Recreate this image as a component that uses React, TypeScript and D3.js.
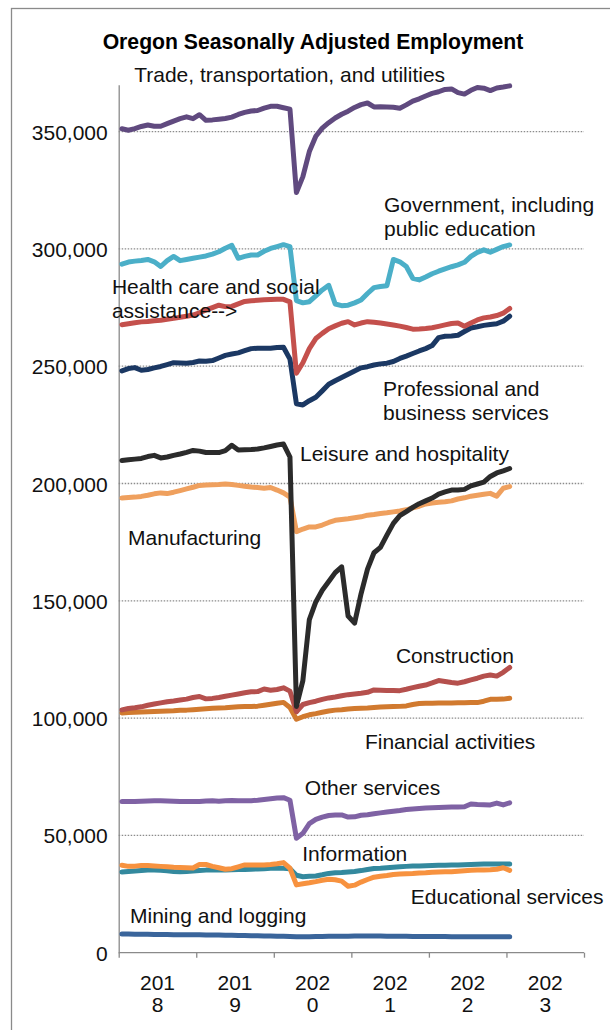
import * as d3 from 'd3';
import React, { useEffect, useRef } from 'react';

// monthly observations, Jan 2018 .. Jan 2023, in thousands of jobs
const months = d3.timeMonth.range(new Date(2018, 0, 1), new Date(2023, 1, 1));
const years = ['2018', '2019', '2020', '2021', '2022', '2023'];
const yTicks = [0, 50000, 100000, 150000, 200000, 250000, 300000, 350000];

const trade = [
  351.2, 350.6, 351.3, 352.2, 352.8, 352.3, 352.3, 353.4, 354.5, 355.5, 356.3, 355.5,
  357.2, 354.8, 355.0, 355.3, 355.6, 356.2, 357.3, 358.2, 358.8, 359.0, 360.0, 360.8,
  360.8, 360.2, 359.6, 324.0, 330.8, 341.5, 348.0, 351.5, 353.8, 355.8, 357.4, 358.7,
  360.3, 361.5, 362.2, 360.5, 360.6, 360.5, 360.4, 360.0, 361.4, 363.0, 364.0, 365.2,
  366.3, 367.0, 368.0, 368.2, 366.6, 366.0, 367.6, 368.8, 368.5, 367.5, 368.6, 369.0,
  369.5,
];
const government = [
  293.5, 294.4, 294.8, 295.1, 295.5, 294.5, 292.5, 295.0, 296.8, 295.0, 295.5, 296.0,
  296.5, 297.0, 297.8, 298.8, 300.3, 301.5, 296.0, 296.8, 297.4, 297.4, 299.0, 300.2,
  301.0, 301.8, 301.0, 278.0, 277.0, 277.5, 280.0, 282.5, 284.5, 276.5, 275.8, 276.0,
  277.0, 278.2, 281.0, 283.5, 284.0, 284.3, 295.5, 294.5, 292.5, 287.5, 286.8, 288.0,
  289.4, 290.5, 291.5, 292.4, 293.2, 294.3, 296.8, 298.5, 299.6, 298.6, 299.8, 301.0,
  301.7,
];
const healthCare = [
  267.7, 268.1, 268.5, 268.9, 269.1, 269.4, 269.6, 270.0, 270.4, 270.9, 271.3, 271.8,
  272.8, 274.0, 275.0, 276.0, 275.4, 275.5, 276.6, 277.6, 277.9, 278.1, 278.3, 278.4,
  278.5, 278.5, 277.4, 247.0, 251.5, 257.5, 261.8, 264.0, 266.0, 267.2, 268.3, 269.0,
  267.6, 268.4, 269.0, 268.7, 268.4, 268.0, 267.6, 267.1, 266.5, 265.8, 265.9, 266.1,
  266.4, 267.0, 267.6, 268.2, 268.4, 267.0, 268.4, 269.7, 270.6, 271.0, 271.6, 272.6,
  274.6,
];
const professional = [
  248.0, 249.0, 249.4, 248.3, 248.6, 249.3, 249.9, 250.7, 251.5, 251.4, 251.3, 251.6,
  252.2, 252.1, 252.4, 253.5, 254.6, 255.2, 255.7, 256.6, 257.5, 257.7, 257.7, 257.7,
  258.0, 258.1, 253.0, 234.0, 233.5, 235.3, 236.8, 239.5, 242.3, 243.8, 245.2, 246.6,
  248.0, 249.3, 249.8, 250.5, 251.0, 251.3, 252.0, 253.3, 254.3, 255.4, 256.5, 257.5,
  258.8, 262.2, 262.8, 262.9, 263.2, 264.8, 266.3, 266.8, 267.4, 267.8, 268.1, 269.2,
  271.3,
];
const leisure = [
  209.8, 210.1, 210.4, 210.7, 211.5, 212.0, 210.9, 211.3, 212.0, 212.6, 213.3, 214.1,
  213.8, 213.2, 213.2, 213.2, 214.0, 216.3, 214.3, 214.4, 214.5, 214.7, 215.2, 215.8,
  216.4, 216.8, 211.3, 105.0, 116.0, 142.0, 149.5, 154.5, 158.2, 162.0, 164.5, 143.5,
  140.5, 153.0, 163.5, 170.5, 172.8, 178.0, 183.0, 186.3, 188.0, 189.8, 191.4, 192.6,
  193.8, 195.5, 196.4, 197.2, 197.2, 197.5, 199.0, 199.8, 200.6, 203.0, 204.5, 205.4,
  206.4,
];
const manufacturing = [
  193.8, 194.0, 194.2, 194.5, 195.0, 195.6, 196.0, 195.7, 196.3, 197.0, 197.7, 198.4,
  199.2, 199.4, 199.5, 199.6, 199.8, 199.6, 199.2, 198.8, 198.5, 198.3, 198.0, 198.3,
  197.2, 196.0, 194.2, 179.5, 180.6, 181.5, 181.5, 182.3, 183.4, 184.3, 184.7, 185.0,
  185.4, 185.8, 186.5, 186.8, 187.2, 187.5, 187.9, 188.3, 188.8, 189.6, 190.3, 191.3,
  191.7, 192.0, 192.2, 192.6, 193.4, 193.9, 194.6, 195.0, 195.4, 195.8, 194.6, 198.0,
  198.7,
];
const construction = [
  103.5, 104.1, 104.4, 104.8, 105.5, 106.0, 106.5, 107.0, 107.3, 107.7, 108.1, 108.8,
  109.2, 108.2, 108.4, 108.8, 109.3, 109.8, 110.3, 110.8, 111.2, 111.3, 112.4, 111.9,
  112.2, 112.9, 111.5, 102.7, 105.8, 106.6, 107.2, 108.0, 108.6, 109.0, 109.5, 110.0,
  110.3, 110.6, 111.0, 112.0, 111.9, 111.8, 111.8, 111.7, 112.3, 113.0, 113.6, 114.1,
  115.0, 116.0, 115.6, 115.2, 114.9, 115.5, 116.3, 117.0, 117.9, 118.4, 117.9, 119.5,
  121.6,
];
const financial = [
  102.2, 102.4, 102.5, 102.6, 102.7, 102.8, 102.9, 103.0, 103.1, 103.3, 103.4, 103.6,
  103.8, 104.0, 104.2, 104.3, 104.4, 104.6, 104.8, 104.9, 104.9, 105.1, 105.5, 105.9,
  106.3, 106.7, 104.5, 99.5, 100.6, 101.4, 101.9, 102.5, 103.0, 103.4, 103.6, 103.9,
  104.1, 104.2, 104.3, 104.5, 104.7, 104.8, 104.9, 105.0, 105.2, 105.8, 106.2, 106.3,
  106.3, 106.4, 106.4, 106.4, 106.5, 106.5, 106.6, 106.6, 107.2, 108.0, 108.0, 108.1,
  108.5,
];
const otherServices = [
  64.4, 64.5, 64.5, 64.6, 64.7, 64.8, 64.8, 64.7, 64.6, 64.5, 64.4, 64.4,
  64.5, 64.7, 64.8, 64.6, 64.8, 64.9, 64.8, 64.8, 64.8, 65.0, 65.3, 65.6,
  65.9, 66.1, 65.0, 48.8, 50.9, 55.0, 56.8, 57.8, 58.5, 58.7, 58.7, 57.8,
  57.9, 58.6, 58.8, 59.2, 59.6, 60.0, 60.3, 60.6, 61.0, 61.3, 61.5, 61.7,
  61.8, 61.9, 62.0, 62.1, 62.1, 62.2, 63.4, 63.2, 63.1, 63.0, 63.8, 63.0,
  63.9,
];
const information = [
  34.4, 34.6, 34.8, 35.0, 35.2, 35.3, 35.1, 34.9, 34.6, 34.5, 34.6, 34.8,
  35.0, 35.2, 35.3, 35.3, 35.3, 35.4, 35.5, 35.5, 35.6, 35.7, 35.8, 36.0,
  36.0, 36.0, 35.8, 33.0, 32.4, 32.6, 32.7, 33.2, 33.8, 34.1, 34.2, 34.4,
  34.6, 35.0, 35.5, 35.9, 36.0, 36.2, 36.4, 36.6, 36.8, 37.0, 37.0, 37.1,
  37.2, 37.3, 37.3, 37.4, 37.4, 37.5, 37.6, 37.7, 37.8, 37.8, 37.8, 37.8,
  37.8,
];
const education = [
  37.3, 36.8, 36.9, 37.2, 37.2, 37.0, 36.8, 36.6, 36.4, 36.3, 36.2, 36.1,
  37.6, 37.6, 36.8, 36.2, 35.6, 35.8, 36.6, 37.4, 37.4, 37.4, 37.4, 37.6,
  37.9, 38.4, 36.0, 28.9, 29.4, 29.8, 30.3, 30.9, 31.3, 31.1, 30.5, 28.3,
  28.8, 30.1, 31.2, 32.2, 32.6, 32.9, 33.3, 33.5, 33.7, 33.8, 34.0, 34.1,
  34.3, 34.4, 34.5, 34.5, 34.7, 34.9, 35.1, 35.2, 35.3, 35.4, 35.6, 36.2,
  35.1,
];
const mining = [
  8.0, 8.0, 7.9, 7.9, 7.9, 7.8, 7.8, 7.8, 7.7, 7.7, 7.7, 7.6,
  7.6, 7.5, 7.5, 7.5, 7.4, 7.4, 7.3, 7.3, 7.2, 7.2, 7.1, 7.1,
  7.0, 7.0, 6.9, 6.8, 6.8, 6.8, 6.9, 6.9, 7.0, 7.0, 7.0, 7.0,
  7.1, 7.1, 7.1, 7.1, 7.1, 7.0, 7.0, 7.0, 7.0, 6.9, 6.9, 6.9,
  6.9, 6.9, 6.9, 6.8, 6.8, 6.8, 6.8, 6.8, 6.8, 6.8, 6.8, 6.8,
  6.8,
];

interface Series {
  values: number[];
  color: string;
  label: string[];
  at: [number, number]; // label anchor: month offset, value in thousands
}

// drawing order: last one sits on top
const series: Series[] = [
  { values: mining, color: '#3a659b', label: ['Mining and logging'], at: [1.75, 12.5] },
  { values: information, color: '#33899e', label: ['Information'], at: [28.4, 39.2] },
  { values: education, color: '#f7923f', label: ['Educational services'], at: [45.2, 20.8] },
  { values: otherServices, color: '#7f62a4', label: ['Other services'], at: [28.8, 67.4] },
  { values: financial, color: '#d17a2f', label: ['Financial activities'], at: [38.1, 86.7] },
  { values: construction, color: '#b5504d', label: ['Construction'], at: [42.9, 123.7] },
  { values: manufacturing, color: '#efa05e', label: ['Manufacturing'], at: [1.45, 174.0] },
  { values: professional, color: '#1b3863', label: ['Professional and', 'business services'], at: [40.9, 237.3] },
  { values: healthCare, color: '#c4504c', label: ['Health care and social', 'assistance-->'], at: [-1.05, 280.8] },
  { values: government, color: '#4bafc8', label: ['Government, including', 'public education'], at: [41.05, 315.8] },
  { values: trade, color: '#604a7f', label: ['Trade, transportation, and utilities'], at: [2.4, 371.3] },
  { values: leisure, color: '#2b2b2b', label: ['Leisure and hospitality'], at: [28.05, 209.6] },
];

const width = 610;
const height = 1030;
const plot = { left: 118.7, right: 584, top: 84.7, bottom: 952.7 };
const font = '"Liberation Sans", Arial, sans-serif';

const App: React.FC = () => {
  const ref = useRef<SVGSVGElement>(null);

  useEffect(() => {
    const svg = d3.select(ref.current);
    svg.selectAll('*').remove();

    const x = d3.scaleLinear().domain([0, years.length * 12]).range([plot.left, plot.right]);
    const y = d3.scaleLinear().domain([0, 370000]).range([plot.bottom, plot.top]);

    svg.append('rect').attr('width', width).attr('height', height).attr('fill', '#fff');
    // chart frame (right/bottom edges fall outside the picture)
    svg
      .append('rect')
      .attr('x', 11.5)
      .attr('y', 8.5)
      .attr('width', width + 20)
      .attr('height', height + 20)
      .attr('fill', 'none')
      .attr('stroke', '#8a8a8a')
      .attr('stroke-width', 1.3);

    svg
      .append('text')
      .attr('x', 313)
      .attr('y', 49)
      .attr('text-anchor', 'middle')
      .attr('font-family', font)
      .attr('font-weight', 'bold')
      .attr('font-size', 21.2)
      .text('Oregon Seasonally Adjusted Employment');

    // gridlines
    svg
      .append('g')
      .selectAll('line')
      .data(yTicks.filter((t) => t > 0))
      .join('line')
      .attr('x1', plot.left)
      .attr('x2', plot.right)
      .attr('y1', (d) => y(d))
      .attr('y2', (d) => y(d))
      .attr('stroke', '#8c8c8c')
      .attr('stroke-width', 1.3)
      .attr('stroke-dasharray', '1.5,1.5');

    // y axis
    const yAxis = svg.append('g').attr('transform', `translate(${plot.left},0)`);
    yAxis.call(
      d3
        .axisLeft(y)
        .tickValues(yTicks)
        .tickSize(0)
        .tickPadding(11)
        .tickFormat((d) => d3.format(',')(d as number))
    );
    yAxis.select('.domain').attr('stroke', '#8a8a8a').attr('stroke-width', 1.3);
    yAxis
      .selectAll('text')
      .attr('font-family', font)
      .attr('font-size', 21)
      .attr('fill', '#111')
      .attr('dy', '0.36em');

    // x axis: one band per year, 12 months each
    const xAxis = svg.append('g').attr('transform', `translate(0,${plot.bottom})`);
    xAxis.call(
      d3
        .axisBottom(x)
        .tickValues(d3.range(0, years.length * 12 + 1, 12))
        .tickSize(5)
        .tickFormat(() => '')
    );
    xAxis.selectAll('.domain, line').attr('stroke', '#8a8a8a').attr('stroke-width', 1.3);
    xAxis.select('.domain').attr('d', `M${plot.left},0H${plot.right}`);

    const yearLabel = svg
      .append('g')
      .selectAll('text')
      .data(years)
      .join('text')
      .attr('text-anchor', 'middle')
      .attr('font-family', font)
      .attr('font-size', 21)
      .attr('fill', '#111')
      .attr('transform', (_, i) => `translate(${x(i * 12 + 6)},${plot.bottom + 37})`);
    yearLabel.append('tspan').attr('x', 0).attr('y', 0).text((d) => d.slice(0, 3));
    yearLabel.append('tspan').attr('x', 0).attr('y', 22).text((d) => d.slice(3));

    const line = d3
      .line<number>()
      .x((_, i) => x(i + 0.5))
      .y((d) => y(d * 1000));

    svg
      .append('g')
      .selectAll('path')
      .data(series)
      .join('path')
      .attr('fill', 'none')
      .attr('stroke', (d) => d.color)
      .attr('stroke-width', 5)
      .attr('stroke-linejoin', 'round')
      .attr('stroke-linecap', 'round')
      .attr('d', (d) => line(d.values.slice(0, months.length)));

    const labels = svg
      .append('g')
      .selectAll('text')
      .data(series)
      .join('text')
      .attr('font-family', font)
      .attr('font-size', 21)
      .attr('fill', '#111')
      .attr('transform', (d) => `translate(${x(d.at[0])},${y(d.at[1] * 1000)})`);
    labels
      .selectAll('tspan')
      .data((d) => d.label)
      .join('tspan')
      .attr('x', 0)
      .attr('y', (_, i) => i * 24)
      .text((d) => d);
  }, []);

  return (
    <svg
      ref={ref}
      width={width}
      height={height}
      style={{ position: 'absolute', left: 0, top: 0, display: 'block' }}
    ></svg>
  );
};

export default App;
